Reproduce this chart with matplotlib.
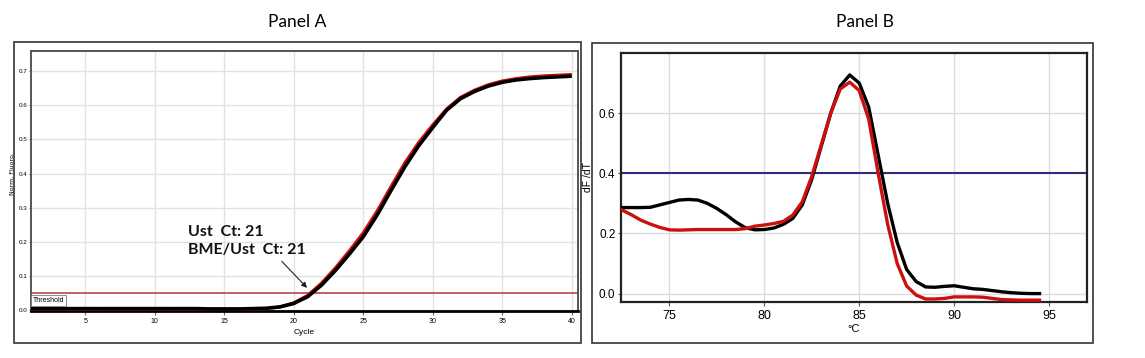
import matplotlib
matplotlib.use("Agg")
import matplotlib.pyplot as plt
from matplotlib.patches import Rectangle

# ---------------- data ----------------
cycles = list(range(1, 41))
ust_black = [0.003, 0.003, 0.003, 0.003, 0.003, 0.003, 0.003, 0.003, 0.003, 0.003,
             0.003, 0.003, 0.003, 0.002, 0.002, 0.002, 0.003, 0.004, 0.008, 0.018,
             0.038, 0.072, 0.115, 0.163, 0.214, 0.278, 0.350, 0.420, 0.482, 0.535,
             0.586, 0.620, 0.641, 0.657, 0.668, 0.675, 0.679, 0.682, 0.684, 0.686]
bme_red = [0.002, 0.002, 0.002, 0.002, 0.001, 0.002, 0.002, 0.002, 0.002, 0.002,
           0.002, 0.001, 0.002, 0.002, 0.002, 0.002, 0.002, 0.003, 0.008, 0.020,
           0.042, 0.078, 0.123, 0.173, 0.226, 0.290, 0.362, 0.432, 0.492, 0.543,
           0.590, 0.624, 0.645, 0.661, 0.672, 0.679, 0.684, 0.687, 0.689, 0.691]
threshold_a = 0.048
xticks_a = [5, 10, 15, 20, 25, 30, 35, 40]
yticks_a = [0.0, 0.1, 0.2, 0.3, 0.4, 0.5, 0.6, 0.7]
annot_lines = ["Ust  Ct: 21", "BME/Ust  Ct: 21"]

temps = [72.5, 73.0, 73.5, 74.0, 74.5, 75.0, 75.5, 76.0, 76.5, 77.0, 77.5, 78.0,
         78.5, 79.0, 79.5, 80.0, 80.5, 81.0, 81.5, 82.0, 82.5, 83.0, 83.5, 84.0,
         84.5, 85.0, 85.5, 86.0, 86.5, 87.0, 87.5, 88.0, 88.5, 89.0, 89.5, 90.0,
         90.5, 91.0, 91.5, 92.0, 92.5, 93.0, 93.5, 94.0, 94.5]
melt_black = [0.286, 0.286, 0.286, 0.287, 0.295, 0.303, 0.311, 0.313, 0.311, 0.300,
              0.283, 0.262, 0.238, 0.219, 0.212, 0.213, 0.218, 0.230, 0.250, 0.295,
              0.380, 0.490, 0.600, 0.690, 0.727, 0.700, 0.620, 0.460, 0.300, 0.170,
              0.080, 0.040, 0.022, 0.021, 0.024, 0.026, 0.021, 0.016, 0.014, 0.010,
              0.006, 0.003, 0.001, 0.000, 0.000]
melt_red = [0.278, 0.262, 0.244, 0.231, 0.220, 0.212, 0.211, 0.212, 0.213, 0.213,
            0.213, 0.213, 0.213, 0.216, 0.224, 0.228, 0.233, 0.240, 0.261, 0.305,
            0.390, 0.495, 0.600, 0.680, 0.703, 0.675, 0.580, 0.400, 0.230, 0.100,
            0.025, -0.005, -0.018, -0.018, -0.016, -0.011, -0.011, -0.011, -0.012,
            -0.016, -0.020, -0.021, -0.022, -0.022, -0.022]
threshold_b = 0.4
xticks_b = [75, 80, 85, 90, 95]
yticks_b = [0.0, 0.2, 0.4, 0.6]

# ---------------- figure ----------------
W, H = 1145, 358
fig = plt.figure(figsize=(W / 100, H / 100), dpi=100)
fig.patch.set_facecolor("white")

narrow = ["Liberation Sans Narrow", "Liberation Sans", "DejaVu Sans"]
title_font = ["Lato", "DejaVu Sans"]


def px_rect(x0, y0, x1, y1):
    return [x0 / W, 1 - y1 / H, (x1 - x0) / W, (y1 - y0) / H]


# outer frames
for (x0, y0, x1, y1) in [(14, 42, 581, 343), (592, 43, 1093, 343)]:
    fig.patches.append(Rectangle((x0 / W, 1 - y1 / H), (x1 - x0) / W, (y1 - y0) / H,
                                 transform=fig.transFigure, fill=False,
                                 edgecolor="#333333", linewidth=1.2))

fig.text(297 / W, 1 - 22 / H, "Panel A", ha="center", va="center",
         fontsize=12.5, family=title_font)
fig.text(865 / W, 1 - 22 / H, "Panel B", ha="center", va="center",
         fontsize=12.5, family=title_font)

# ---------------- Panel A ----------------
axA = fig.add_axes(px_rect(31, 51, 578, 311))
axA.set_xlim(1.1, 40.45)
axA.set_ylim(-0.004, 0.76)
axA.set_xticks(xticks_a)
axA.set_yticks(yticks_a)
axA.set_xticklabels([str(t) for t in xticks_a])
axA.set_yticklabels([f"{t:.1f}" for t in yticks_a])
axA.grid(True, color="#e2e2e2", linewidth=1.0)
axA.set_axisbelow(True)
axA.tick_params(axis="x", labelsize=5, length=3, width=0.8,
                color="#666666", pad=2)
axA.tick_params(axis="y", labelsize=4.5, length=1.5, width=0.8,
                color="#666666", pad=1)
for lab in axA.get_xticklabels() + axA.get_yticklabels():
    lab.set_family(narrow)
for s in ["left", "top", "right"]:
    axA.spines[s].set_color("#555555")
    axA.spines[s].set_linewidth(1.4)
axA.spines["bottom"].set_color("black")
axA.spines["bottom"].set_linewidth(2.0)

axA.axhline(threshold_a, color="#b03535", linewidth=1.1, zorder=2)
axA.plot(cycles, bme_red, color="#d01010", linewidth=2.2, zorder=3,
         solid_capstyle="butt")
axA.plot(cycles, ust_black, color="black", linewidth=2.6, zorder=3,
         solid_capstyle="butt")

axA.text(0.003, 0.027, "Threshold", transform=axA.get_yaxis_transform(),
         fontsize=5, family=narrow, va="center", ha="left",
         bbox=dict(boxstyle="square,pad=0.25", facecolor="white",
                   edgecolor="#777777", linewidth=0.6), zorder=4)

axA.text(12.4, 0.228, annot_lines[0], fontsize=11.5, fontweight="bold",
         family=title_font, va="center", ha="left", color="#111111")
axA.text(12.4, 0.174, annot_lines[1], fontsize=11.5, fontweight="bold",
         family=title_font, va="center", ha="left", color="#111111")
axA.annotate("", xy=(21.1, 0.058), xytext=(19.0, 0.148),
             arrowprops=dict(arrowstyle="-|>", color="#222222", lw=0.8,
                             mutation_scale=8))

axA.set_xlabel("Cycle", fontsize=6, family=narrow, labelpad=3)
axA.set_ylabel("Norm. Fluoro.", fontsize=4.5, family=["DejaVu Sans"])
axA.yaxis.set_label_coords(-0.029, 0.53)

# ---------------- Panel B ----------------
axB = fig.add_axes(px_rect(621, 53, 1087, 302))
axB.set_xlim(72.45, 97.0)
axB.set_ylim(-0.028, 0.80)
axB.set_xticks(xticks_b)
axB.set_yticks(yticks_b)
axB.set_xticklabels([str(t) for t in xticks_b])
axB.set_yticklabels([f"{t:.1f}" for t in yticks_b])
axB.grid(True, color="#dcdcdc", linewidth=1.0)
axB.set_axisbelow(True)
axB.tick_params(axis="x", labelsize=9, length=3, width=0.8,
                color="#555555", pad=3)
axB.tick_params(axis="y", labelsize=8.5, length=2.5, width=0.8,
                color="#555555", pad=1.5)
for lab in axB.get_xticklabels() + axB.get_yticklabels():
    lab.set_family(narrow)
for s in axB.spines.values():
    s.set_color("#222222")
    s.set_linewidth(1.6)

axB.axhline(threshold_b, color="#2e2e80", linewidth=1.5, zorder=2)
axB.plot(temps, melt_black, color="black", linewidth=2.4, zorder=3)
axB.plot(temps, melt_red, color="#cc1010", linewidth=2.4, zorder=3)

axB.set_xlabel("°C", fontsize=8, family=narrow, labelpad=1)
axB.set_ylabel("dF /dT", fontsize=7.5, family=narrow)
axB.yaxis.set_label_coords(-0.061, 0.5)

fig.savefig("out.png", dpi=100, facecolor="white")
